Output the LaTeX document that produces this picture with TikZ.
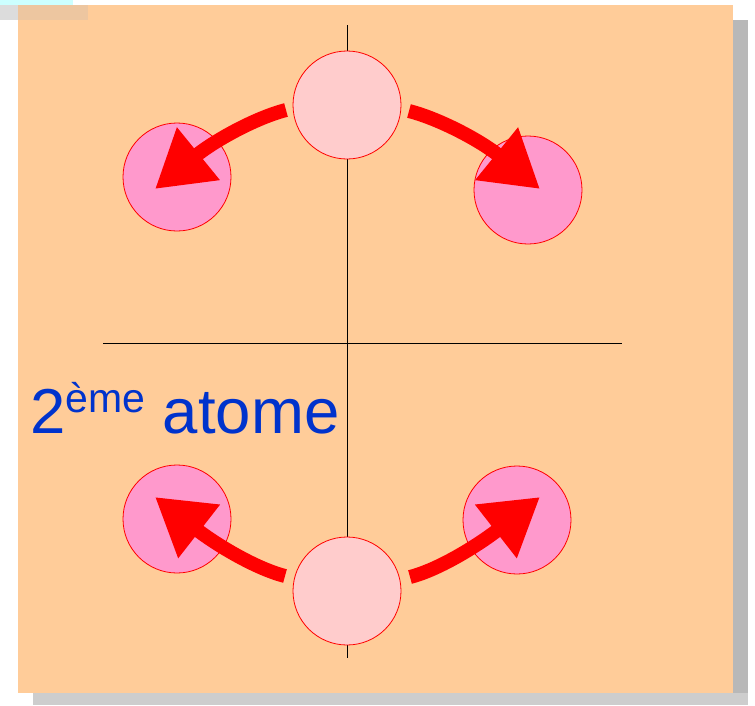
\documentclass[tikz,border=0pt]{standalone}
\usepackage{fontspec}
\setmainfont{Liberation Sans}
\usetikzlibrary{arrows.meta}
\definecolor{bgorange}{HTML}{FFCC99}
\definecolor{midpink}{HTML}{FFCCCC}
\definecolor{sidepink}{HTML}{FF99CC}
\definecolor{txtblue}{HTML}{0033CC}
\definecolor{shadowgray}{HTML}{B8B8B8}
\definecolor{lightcyan}{HTML}{CCFFFF}
\tikzset{
  atomc/.style={circle, minimum size=108pt, inner sep=0pt, fill=midpink, draw=red, line width=0.8pt},
  atoms/.style={circle, minimum size=108pt, inner sep=0pt, fill=sidepink, draw=red, line width=0.8pt},
  axis/.style={draw=black, line width=0.8pt},
  bigarrow/.style={draw=red, line width=14pt, -{Triangle[length=56pt,width=64pt]}},
}
\begin{document}
\begin{tikzpicture}[x=1pt,y=-1pt]
\useasboundingbox (0,0) rectangle (755,705);
% shadow
\fill[shadowgray] (733,20) rectangle (748,705);
\fill[shadowgray!70] (33,693) rectangle (748,705);
% top-left remnant
\fill[lightcyan] (0,0) rectangle (73,5);
\fill[shadowgray!50] (0,5) rectangle (18,20);
% background
\fill[bgorange] (18,5) rectangle (733,693);
\fill[shadowgray, opacity=0.25] (18,5) rectangle (88,20);
% axes
\coordinate (vt) at (347,25);
\coordinate (vb) at (347,658);
\coordinate (hl) at (103,343);
\coordinate (hr) at (622,343);
\draw[axis] (vt) -- (vb);
\draw[axis] (hl) -- (hr);
% atoms
\node[atomc] (ct) at (347,105) {};
\node[atoms] (tl) at (177,177) {};
\node[atoms] (tr) at (528,190) {};
\node[atoms] (bl) at (177,519) {};
\node[atoms] (br) at (517,520) {};
\node[atomc] (cb) at (347,591) {};
% arrows
\coordinate (a1s) at (286,110);
\coordinate (a1e) at (155,189);
\coordinate (a2s) at (409,111);
\coordinate (a2e) at (540,189);
\coordinate (a3s) at (285,576);
\coordinate (a3e) at (155,497);
\coordinate (a4s) at (410,577);
\coordinate (a4e) at (540,497);
\draw[bigarrow] (a1s) .. controls (255,118) and (214,141) .. (a1e);
\draw[bigarrow] (a2s) .. controls (440,119) and (481,141) .. (a2e);
\draw[bigarrow] (a3s) .. controls (254,568) and (214,543) .. (a3e);
\draw[bigarrow] (a4s) .. controls (441,569) and (481,543) .. (a4e);
% label
\node[anchor=base west, inner sep=0pt, text=txtblue] (lbl) at (30,433)
  {\fontsize{63.5}{63.5}\selectfont 2\raisebox{21pt}{\fontsize{41}{41}\selectfont ème} atome};
\end{tikzpicture}
\end{document}
